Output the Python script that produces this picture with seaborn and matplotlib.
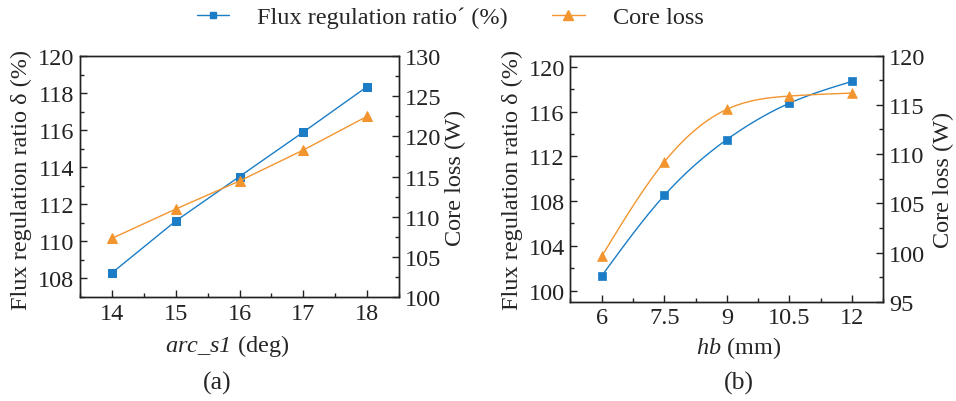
import numpy as np
import pandas as pd
import matplotlib
matplotlib.use("Agg")
import matplotlib.pyplot as plt
from matplotlib.lines import Line2D
from matplotlib.ticker import MultipleLocator, FixedLocator
import seaborn as sns

# ---- data ----
arc_s1 = [14, 15, 16, 17, 18]
flux_a = [108.3, 111.1, 113.5, 115.9, 118.35]
core_a = [107.3, 110.95, 114.45, 118.3, 122.5]

hb = [6, 7.5, 9, 10.5, 12]
flux_b = [101.3, 108.5, 113.5, 116.75, 118.7]
core_b = [99.6, 109.2, 114.55, 115.9, 116.2]

xticks_a = [14, 15, 16, 17, 18]
xticks_b = [6, 7.5, 9, 10.5, 12]
xticklabels_b = ["6", "7.5", "9", "10.5", "12"]

BLUE = "#1a7dc6"
ORANGE = "#f3952f"

sns.set_theme(style="ticks")
plt.rcParams["font.family"] = ["Liberation Serif", "DejaVu Serif"]
plt.rcParams["mathtext.fontset"] = "custom"
plt.rcParams["mathtext.rm"] = "Liberation Serif:italic"
plt.rcParams["mathtext.it"] = "Liberation Serif:italic"
plt.rcParams["axes.edgecolor"] = "#222222"
plt.rcParams["axes.linewidth"] = 1.0
FS = 17.5


def natural_spline(x, y, n=200):
    x = np.asarray(x, float)
    y = np.asarray(y, float)
    k = len(x)
    h = np.diff(x)
    A = np.zeros((k, k))
    r = np.zeros(k)
    A[0, 0] = 1
    A[-1, -1] = 1
    for i in range(1, k - 1):
        A[i, i - 1] = h[i - 1]
        A[i, i] = 2 * (h[i - 1] + h[i])
        A[i, i + 1] = h[i]
        r[i] = 3 * ((y[i + 1] - y[i]) / h[i] - (y[i] - y[i - 1]) / h[i - 1])
    c = np.linalg.solve(A, r)
    xs = np.linspace(x[0], x[-1], n)
    ys = np.empty_like(xs)
    for j, xv in enumerate(xs):
        i = min(np.searchsorted(x, xv, side="right") - 1, k - 2)
        d = xv - x[i]
        b = (y[i + 1] - y[i]) / h[i] - h[i] * (2 * c[i] + c[i + 1]) / 3
        dd = (c[i + 1] - c[i]) / (3 * h[i])
        ys[j] = y[i] + b * d + c[i] * d ** 2 + dd * d ** 3
    return xs, ys


fig = plt.figure(figsize=(9.56, 4.02), dpi=100)
ax1 = fig.add_axes([0.0837, 0.2587, 0.3337, 0.5993])
ax2 = fig.add_axes([0.5966, 0.247, 0.3274, 0.612])


def style(ax):
    ax.tick_params(direction="in", which="both", labelsize=FS, colors="#222222",
                   labelcolor="#222222")
    ax.tick_params(which="major", length=5, width=1, pad=4)
    ax.tick_params(which="minor", length=3, width=1)
    for s in ax.spines.values():
        s.set_visible(True)


# ---- panel (a) ----
da = pd.DataFrame({"x": arc_s1, "flux": flux_a, "core": core_a})
sns.lineplot(data=da, x="x", y="flux", ax=ax1, color=BLUE, lw=1.0, marker="s",
             markersize=5.5, markeredgecolor=BLUE)
ax1b = ax1.twinx()
sns.lineplot(data=da, x="x", y="core", ax=ax1b, color=ORANGE, lw=1.0, marker="^",
             markersize=7, markeredgecolor=ORANGE)
ax1.set_xlim(13.5, 18.5)
ax1.set_ylim(107, 120)
ax1b.set_ylim(100, 130)
ax1.xaxis.set_major_locator(FixedLocator(xticks_a))
ax1.xaxis.set_minor_locator(MultipleLocator(0.5))
ax1.yaxis.set_major_locator(MultipleLocator(2))
ax1.yaxis.set_minor_locator(MultipleLocator(1))
ax1b.yaxis.set_major_locator(MultipleLocator(5))
ax1b.yaxis.set_minor_locator(MultipleLocator(2.5))
ax1.set_xlabel(r"$arc\_s1$ (deg)", fontsize=FS)
ax1.set_ylabel("Flux regulation ratio δ (%)", fontsize=FS)
ax1b.set_ylabel("Core loss (W)", fontsize=FS)
for a in (ax1, ax1b):
    style(a)

# ---- panel (b) ----
db = pd.DataFrame({"x": hb, "flux": flux_b, "core": core_b})
xs, ys = natural_spline(hb, flux_b)
sns.lineplot(x=xs, y=ys, ax=ax2, color=BLUE, lw=1.0)
sns.scatterplot(data=db, x="x", y="flux", ax=ax2, color=BLUE, marker="s", s=34,
                edgecolor=BLUE, linewidth=0.5, zorder=3)
ax2b = ax2.twinx()
xs2, ys2 = natural_spline(hb, core_b)
sns.lineplot(x=xs2, y=ys2, ax=ax2b, color=ORANGE, lw=1.0)
sns.scatterplot(data=db, x="x", y="core", ax=ax2b, color=ORANGE, marker="^", s=50,
                edgecolor=ORANGE, linewidth=0.5, zorder=3)
ax2.set_xlim(5.25, 12.75)
ax2.set_ylim(99, 121)
ax2b.set_ylim(95, 120)
ax2.xaxis.set_major_locator(FixedLocator(xticks_b))
ax2.set_xticklabels(xticklabels_b)
ax2.xaxis.set_minor_locator(MultipleLocator(0.75))
ax2.yaxis.set_major_locator(MultipleLocator(4))
ax2.yaxis.set_minor_locator(MultipleLocator(2))
ax2b.yaxis.set_major_locator(MultipleLocator(5))
ax2b.yaxis.set_minor_locator(MultipleLocator(2.5))
ax2.set_xlabel(r"$hb$ (mm)", fontsize=FS)
ax2.set_ylabel("Flux regulation ratio δ (%)", fontsize=FS)
ax2b.set_ylabel("Core loss (W)", fontsize=FS)
for a in (ax2, ax2b):
    style(a)

# label positions
def place_xlabel(ax, xc, yc):
    ax.xaxis.set_label_coords(*ax.transAxes.inverted().transform(
        fig.transFigure.transform((xc / 956, 1 - yc / 402))))
    ax.xaxis.label.set_va("center")

def place_ylabel(axis, ax, xc, yc):
    axis.set_label_coords(*ax.transAxes.inverted().transform(
        fig.transFigure.transform((xc / 956, 1 - yc / 402))))
    axis.label.set_ha("center")
    axis.label.set_va("center")

place_xlabel(ax1, 227, 346)
place_xlabel(ax2, 739, 348)
place_ylabel(ax1.yaxis, ax1, 21, 180)
place_ylabel(ax1b.yaxis, ax1b, 455, 178)
place_ylabel(ax2.yaxis, ax2, 512, 180)
place_ylabel(ax2b.yaxis, ax2b, 943, 180)

# ---- legend & captions ----
handles = [
    Line2D([], [], color=BLUE, lw=1.0, marker="s", markersize=5),
    Line2D([], [], color=ORANGE, lw=1.0, marker="^", markersize=6.5),
]
fig.legend(handles, ["Flux regulation ratio\u00b4 (%)", "Core loss"],
           loc="center", bbox_to_anchor=(450 / 956, 1 - 18 / 402), ncol=2,
           frameon=False, fontsize=FS, handlelength=1.35, handletextpad=1.15,
           columnspacing=1.8, borderpad=0, borderaxespad=0)
fig.text(217.5 / 956, 1 - 383 / 402, "(a)", ha="center", va="center", fontsize=FS + 1)
fig.text(739 / 956, 1 - 383 / 402, "(b)", ha="center", va="center", fontsize=FS + 1)

fig.savefig("out.png", dpi=100)
